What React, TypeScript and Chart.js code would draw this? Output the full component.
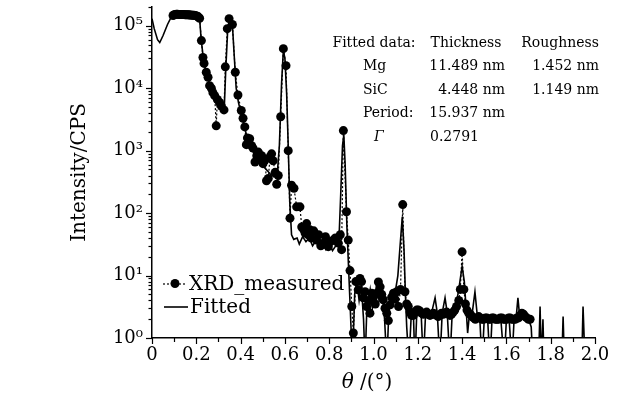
import React, { useEffect, useRef } from 'react';
import { Chart, registerables } from 'chart.js';

Chart.register(...registerables);

// ---------- data ----------
const measuredTheta = [
  0.095, 0.1, 0.105, 0.11, 0.115, 0.12, 0.125, 0.13, 0.135, 0.14, 0.145, 0.15, 0.155, 0.16, 0.165, 0.17,
  0.175, 0.18, 0.185, 0.19, 0.195, 0.2, 0.205, 0.21, 0.215,
  0.223, 0.23, 0.235, 0.245, 0.253, 0.26, 0.268, 0.275, 0.283, 0.29, 0.295, 0.305, 0.313, 0.325,
  0.331, 0.34, 0.348, 0.363, 0.376, 0.388, 0.403, 0.411, 0.419, 0.426, 0.431, 0.441, 0.45, 0.456,
  0.465, 0.473, 0.48, 0.488, 0.495, 0.501, 0.51, 0.517, 0.525, 0.533, 0.54, 0.547, 0.556, 0.563,
  0.57, 0.581, 0.593, 0.605, 0.615, 0.623, 0.63, 0.641, 0.653, 0.668, 0.676, 0.684, 0.691, 0.698,
  0.705, 0.713, 0.72, 0.73, 0.743, 0.752, 0.762, 0.773, 0.783, 0.796, 0.806, 0.818, 0.828, 0.841,
  0.85, 0.856, 0.864, 0.878, 0.886, 0.894, 0.902, 0.909, 0.92, 0.931, 0.939, 0.946, 0.954, 0.962,
  0.969, 0.977, 0.984, 0.992, 1.0, 1.008, 1.015, 1.022, 1.03, 1.037, 1.044, 1.052, 1.06, 1.067,
  1.075, 1.082, 1.09, 1.097, 1.105, 1.113, 1.122, 1.132, 1.142, 1.15, 1.157, 1.165, 1.172, 1.18,
  1.187, 1.195, 1.202, 1.21, 1.217, 1.225, 1.232, 1.24, 1.247, 1.255, 1.262, 1.27, 1.277, 1.285,
  1.292, 1.3, 1.307, 1.315, 1.322, 1.33, 1.337, 1.345, 1.352, 1.36, 1.367, 1.375, 1.385, 1.392,
  1.4, 1.408, 1.415, 1.422, 1.43, 1.437, 1.445, 1.452, 1.46, 1.467, 1.475, 1.482, 1.49, 1.497,
  1.505, 1.512, 1.52, 1.527, 1.535, 1.542, 1.55, 1.557, 1.565, 1.572, 1.58, 1.587, 1.595, 1.602,
  1.61, 1.617, 1.625, 1.632, 1.64, 1.647, 1.655, 1.662, 1.67, 1.677, 1.685, 1.692, 1.7, 1.707,
];
const measuredIntensity = [
  146000, 150000, 152000, 153000, 153000, 152000, 152000, 152000, 151000, 151000, 151000, 150000, 150000, 150000, 150000, 149000,
  149000, 148000, 148000, 147000, 146000, 144000, 142000, 138000, 132000,
  58000, 31000, 25000, 18000, 15000, 11000, 10000, 8500, 7600, 2500, 6600, 5900, 5200, 4500,
  22000, 90000, 130000, 105000, 18000, 7800, 4400, 3300, 2400, 1250, 1600, 1550, 1200, 1100,
  660, 830, 950, 750, 830, 620, 700, 330, 360, 800, 890, 690, 450, 290,
  400, 3500, 43000, 23000, 1000, 83, 280, 250, 126, 126, 60, 55, 48, 68,
  45, 54, 40, 52, 37, 45, 30, 33, 42, 29, 35, 37, 40, 33,
  45, 26, 2100, 105, 37, 12, 3.2, 1.2, 8, 5.9, 9, 8, 4.4, 5.5,
  3.2, 4, 2.5, 5.2, 4.5, 3.5, 5.2, 7.9, 6.6, 5, 4.1, 3, 2.5, 1.9,
  3.4, 4.5, 5.2, 4.2, 5.5, 3.2, 6, 137, 5.5, 3.5, 3.2, 2.6, 2.3, 2.3,
  2.6, 2.8, 2.8, 2.7, 2.5, 2.4, 2.5, 2.6, 2.4, 2.3, 2.4, 2.5, 2.4, 2.3,
  2.2, 2.3, 2.5, 2.4, 2.5, 2.6, 2.5, 2.3, 2.4, 2.6, 2.8, 3.2, 4, 6,
  24, 6, 3.5, 2.8, 2.5, 2.4, 2.2, 2.1, 2.0, 2.1, 2.2, 2.1, 2.0, 2.0,
  2.1, 2.1, 2.0, 2.0, 2.1, 2.1, 2.0, 2.0, 2.0, 2.1, 2.1, 2.0, 2.0, 2.0,
  2.1, 2.1, 2.0, 2.0, 2.0, 2.1, 2.1, 2.3, 2.5, 2.4, 2.2, 2.1, 2.0, 2.0,
];

const fittedTheta = [
  0.0, 0.01, 0.025, 0.035, 0.05, 0.07, 0.09, 0.1, 0.15, 0.2, 0.215, 0.222, 0.232, 0.245, 0.26,
  0.275, 0.29, 0.305, 0.318, 0.326, 0.333, 0.342, 0.35, 0.356, 0.364, 0.372, 0.38, 0.39, 0.4,
  0.415, 0.43, 0.445, 0.46, 0.475, 0.49, 0.505, 0.52, 0.535, 0.55, 0.565, 0.575, 0.585, 0.593,
  0.6, 0.608, 0.615, 0.622, 0.63, 0.64, 0.655, 0.665, 0.68, 0.695, 0.71, 0.725, 0.74, 0.755,
  0.77, 0.785, 0.8, 0.815, 0.83, 0.845, 0.852, 0.86, 0.866, 0.872, 0.88, 0.888, 0.895, 0.905,
  0.915, 0.925, 0.935, 0.945, 0.955, 0.962, 0.97, 0.985, 0.995, 1.005, 1.015, 1.025, 1.04, 1.05,
  1.06, 1.07, 1.085, 1.1, 1.11, 1.12, 1.13, 1.138, 1.145, 1.15, 1.16, 1.17, 1.18, 1.187, 1.195,
  1.205, 1.215, 1.225, 1.235, 1.25, 1.265, 1.278, 1.288, 1.3, 1.31, 1.323, 1.333, 1.345, 1.355,
  1.37, 1.385, 1.4, 1.41, 1.418, 1.425, 1.432, 1.445, 1.458, 1.468, 1.48, 1.49, 1.5, 1.515,
  1.526, 1.535, 1.55, 1.565, 1.575, 1.59, 1.6, 1.612, 1.625, 1.635, 1.645, 1.652, 1.66, 1.67,
  1.685, 1.7, 1.712, 1.72, 1.745, 1.752, 1.758, 1.765, 1.77, 1.85, 1.856, 1.862, 1.94, 1.946, 1.955,
];
const fittedIntensity = [
  130000, 90000, 60000, 54000, 70000, 105000, 145000, 150000, 150000, 145000, 130000, 60000, 30000, 18000, 11500,
  8500, 6800, 5800, 4800, 4500, 20000, 90000, 130000, 125000, 90000, 30000, 10000, 6000, 4200,
  2600, 1600, 1200, 900, 750, 650, 550, 480, 420, 380, 400, 1200, 12000, 40000,
  30000, 8000, 1200, 150, 45, 38, 40, 32, 42, 35, 40, 30, 36, 28,
  33, 26, 32, 25, 30, 45, 200, 1200, 1800, 600, 60, 12, 3, 0.4,
  5, 8, 4, 7, 2, 0.4, 3, 6, 3, 5, 7, 4, 5, 2,
  0.4, 3, 5, 6, 10, 30, 87, 25, 4, 1.5, 0.4, 2.2, 2.5, 0.4, 2.3,
  2.6, 2.5, 0.4, 2.4, 2.6, 2.8, 4.4, 2.5, 0.4, 2.5, 4.4, 2.5, 0.4, 2.4,
  3.0, 6, 14, 8, 3, 1.2, 2.2, 2.4, 5.5, 2.4, 2.0, 0.4, 2.0, 2.1,
  0.4, 2.0, 2.1, 2.2, 2.0, 0.4, 2.0, 2.1, 0.4, 2.1, 2.3, 4.4, 2.2, 2.0,
  2.1, 2.0, 1.5, 0.4, 0.4, 3.2, 0.4, 2.0, 0.4, 0.4, 2.2, 0.4, 0.4, 3.2, 0.4,
];

const seriesLabels = ['XRD_measured', 'Fitted'];
const yAxisTitle = 'Intensity/CPS';
const xAxisTitleSymbol = 'θ';
const xAxisTitleUnit = ' /(°)';
const tableHeader = ['Fitted data:', 'Thickness', 'Roughness'];
const tableLayers = ['Mg', 'SiC', 'Period:', 'Γ'];
const tableThickness = ['11.489 nm', '4.448 nm', '15.937 nm', '0.2791'];
const tableRoughness = ['1.452 nm', '1.149 nm', '', ''];
const superscripts = ['⁰', '¹', '²', '³', '⁴', '⁵', '⁶'];

const FONT = '"DejaVu Serif", "Liberation Serif", serif';

const decorPlugin = {
  id: 'decor',
  afterDraw(chart: any) {
    const { ctx, chartArea, scales } = chart;
    const xs = scales.x;
    const ys = scales.y;
    const { left, top, bottom } = chartArea;
    ctx.save();
    ctx.strokeStyle = '#000';
    ctx.fillStyle = '#000';
    ctx.lineWidth = 1.2;

    // x ticks (major + minor), pointing outward
    for (let i = 0; i <= 20; i++) {
      const px = Math.round(xs.getPixelForValue(i / 10)) + 0.5;
      const len = i % 2 === 0 ? 6 : 4;
      ctx.beginPath();
      ctx.moveTo(px, bottom);
      ctx.lineTo(px, bottom + len);
      ctx.stroke();
    }
    // y ticks (decades + minor)
    for (let e = 0; e <= 5; e++) {
      for (let k = 1; k <= 9; k++) {
        const v = k * Math.pow(10, e);
        if (v > ys.max) break;
        const py = Math.round(ys.getPixelForValue(v)) + 0.5;
        const len = k === 1 ? 6 : 3.5;
        ctx.beginPath();
        ctx.moveTo(left - len, py);
        ctx.lineTo(left, py);
        ctx.stroke();
      }
    }

    // y axis title
    ctx.font = `20px ${FONT}`;
    ctx.textAlign = 'center';
    ctx.textBaseline = 'middle';
    ctx.save();
    ctx.translate(80, (top + bottom) / 2);
    ctx.rotate(-Math.PI / 2);
    ctx.fillText(yAxisTitle, 0, 0);
    ctx.restore();

    // x axis title with italic theta
    ctx.textAlign = 'left';
    ctx.font = `italic 20px ${FONT}`;
    const wSym = ctx.measureText(xAxisTitleSymbol).width;
    ctx.font = `20px ${FONT}`;
    const wUnit = ctx.measureText(xAxisTitleUnit).width;
    const startX = 367 - (wSym + wUnit) / 2;
    ctx.font = `italic 20px ${FONT}`;
    ctx.fillText(xAxisTitleSymbol, startX, 383);
    ctx.font = `20px ${FONT}`;
    ctx.fillText(xAxisTitleUnit, startX + wSym, 383);

    // legend
    const ds0 = chart.data.datasets[0];
    const ds1 = chart.data.datasets[1];
    ctx.lineWidth = ds0.borderWidth;
    ctx.setLineDash(ds0.borderDash);
    ctx.beginPath();
    ctx.moveTo(163, 284);
    ctx.lineTo(187, 284);
    ctx.stroke();
    ctx.setLineDash([]);
    ctx.beginPath();
    ctx.arc(175, 283.5, ds0.pointRadius, 0, Math.PI * 2);
    ctx.fill();
    ctx.lineWidth = ds1.borderWidth;
    ctx.beginPath();
    ctx.moveTo(164, 307);
    ctx.lineTo(188, 307);
    ctx.stroke();
    ctx.font = `20px ${FONT}`;
    ctx.textAlign = 'left';
    ctx.fillText(seriesLabels[0], 189, 285);
    ctx.fillText(seriesLabels[1], 190, 308);

    // fitted parameter table
    ctx.font = `14px ${FONT}`;
    const rowY = [43, 66, 90, 113, 137];
    ctx.textAlign = 'center';
    ctx.fillText(tableHeader[0], 374, rowY[0]);
    ctx.fillText(tableHeader[1], 466, rowY[0]);
    ctx.fillText(tableHeader[2], 560, rowY[0]);
    for (let r = 0; r < tableLayers.length; r++) {
      const y = rowY[r + 1];
      ctx.textAlign = 'left';
      if (tableLayers[r] === 'Γ') {
        ctx.font = `italic 14px ${FONT}`;
        ctx.fillText(tableLayers[r], 374, y);
        ctx.font = `14px ${FONT}`;
      } else {
        ctx.fillText(tableLayers[r], 363, y);
      }
      if (tableThickness[r].indexOf('nm') >= 0) {
        ctx.textAlign = 'right';
        ctx.fillText(tableThickness[r], 505, y);
      } else {
        ctx.textAlign = 'left';
        ctx.fillText(tableThickness[r], 430, y);
      }
      if (tableRoughness[r]) {
        ctx.textAlign = 'right';
        ctx.fillText(tableRoughness[r], 599, y);
      }
    }
    ctx.restore();
  },
};

export default function App() {
  const canvasRef = useRef<HTMLCanvasElement | null>(null);

  useEffect(() => {
    document.body.style.margin = '0';
    const canvas = canvasRef.current;
    if (!canvas) return;
    const chart = new Chart(canvas, {
      type: 'scatter',
      data: {
        datasets: [
          {
            label: seriesLabels[0],
            data: measuredTheta.map((x, i) => ({ x, y: measuredIntensity[i] })),
            showLine: true,
            borderColor: '#000',
            borderWidth: 1.2,
            borderDash: [2, 2],
            pointRadius: 4.5,
            pointHoverRadius: 4.5,
            pointBackgroundColor: '#000',
            pointBorderWidth: 0,
          },
          {
            label: seriesLabels[1],
            data: fittedTheta.map((x, i) => ({ x, y: fittedIntensity[i] })),
            showLine: true,
            borderColor: '#000',
            borderWidth: 1.6,
            pointRadius: 0,
            pointHoverRadius: 0,
          },
        ],
      },
      options: {
        responsive: false,
        animation: false,
        devicePixelRatio: 1,
        layout: { padding: { top: 7, right: 24, left: 0, bottom: 0 } },
        plugins: { legend: { display: false }, tooltip: { enabled: false } },
        scales: {
          x: {
            type: 'linear',
            min: 0,
            max: 2,
            border: { display: true, color: '#000', width: 1.5 },
            grid: { display: false, drawTicks: false },
            ticks: {
              stepSize: 0.2,
              autoSkip: false,
              maxRotation: 0,
              padding: 7,
              color: '#000',
              font: { family: FONT, size: 18 },
              callback: (v: any) => (Number(v) === 0 ? '0' : Number(v).toFixed(1)),
            },
            afterFit: (s: any) => {
              s.height = 61;
              s.paddingLeft = 0;
              s.paddingRight = 0;
            },
          },
          y: {
            type: 'logarithmic',
            min: 1,
            max: 200000,
            border: { display: true, color: '#000', width: 1.5 },
            grid: { display: false, drawTicks: false },
            ticks: {
              autoSkip: false,
              padding: 9,
              color: '#000',
              font: { family: FONT, size: 18 },
              callback: (v: any) => {
                const l = Math.log10(Number(v));
                const r = Math.round(l);
                return Math.abs(l - r) < 1e-6 ? '10' + superscripts[r] : '';
              },
            },
            afterFit: (s: any) => {
              s.width = 152;
              s.paddingTop = 0;
              s.paddingBottom = 0;
            },
          },
        },
      },
      plugins: [decorPlugin],
    } as any);
    return () => chart.destroy();
  }, []);

  return (
    <div style={{ position: 'absolute', left: 0, top: 0, width: 619, height: 399, background: '#fff' }}>
      <canvas ref={canvasRef} width={619} height={399} style={{ display: 'block', width: 619, height: 399 }} />
    </div>
  );
}
